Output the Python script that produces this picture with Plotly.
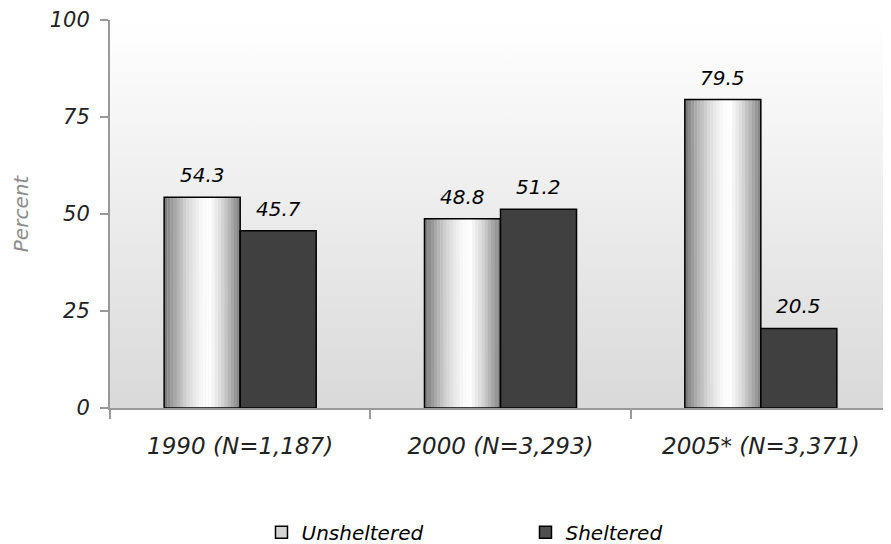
import base64
import plotly.graph_objects as go

categories = ["1990 (N=1,187)", "2000 (N=3,293)", "2005* (N=3,371)"]
unsheltered = [54.3, 48.8, 79.5]
sheltered = [45.7, 51.2, 20.5]
y_ticks = [0, 25, 50, 75, 100]

BAR_W = 0.292
FONT = "DejaVu Sans"

# horizontal "cylinder" gradient for unsheltered bars (style only)
stops = [(0.0, 118), (0.12, 160), (0.3, 215), (0.5, 250), (0.6, 255),
         (0.75, 218), (0.9, 165), (1.0, 128)]


def gray_at(t):
    for (a, ga), (b, gb) in zip(stops[:-1], stops[1:]):
        if a <= t <= b:
            v = ga + (gb - ga) * (t - a) / (b - a)
            v = int(round(v))
            return f"rgb({v},{v},{v})"
    return "rgb(200,200,200)"


fig = go.Figure()

N = 24
sw = BAR_W / N
for i in range(N):
    t = (i + 0.5) / N
    fig.add_trace(go.Bar(
        x=categories, y=unsheltered, width=sw * 1.05, offset=-BAR_W + i * sw,
        marker=dict(color=gray_at(t), line=dict(width=0)),
        showlegend=False, hoverinfo="skip"))

fig.add_trace(go.Bar(
    x=categories, y=unsheltered, width=BAR_W, offset=-BAR_W,
    marker=dict(color="rgba(0,0,0,0)", line=dict(color="black", width=1.5)),
    showlegend=False))

fig.add_trace(go.Bar(
    x=categories, y=sheltered, width=BAR_W, offset=0,
    marker=dict(color="#404040", line=dict(color="black", width=1.5)),
    showlegend=False))

# legend entries
fig.add_trace(go.Bar(x=[None], y=[None], name="Unsheltered",
                     marker=dict(color="#d4d4d4", line=dict(color="black", width=1.5))))
fig.add_trace(go.Bar(x=[None], y=[None], name="Sheltered",
                     marker=dict(color="#505050", line=dict(color="black", width=1.5))))

# value labels positioned by data
PLOT_W = 781
label_font = dict(family=FONT, size=20, color="black", style="italic")
half = BAR_W * PLOT_W / 3 / 2
annotations = []
for c, v in zip(categories, unsheltered):
    annotations.append(dict(x=c, y=v, xref="x", yref="y", text=f"{v:.1f}",
                            showarrow=False, yanchor="bottom", xshift=-half,
                            yshift=8, font=label_font))
for c, v in zip(categories, sheltered):
    annotations.append(dict(x=c, y=v, xref="x", yref="y", text=f"{v:.1f}",
                            showarrow=False, yanchor="bottom", xshift=half,
                            yshift=8, font=label_font))

svg = ('<svg xmlns="http://www.w3.org/2000/svg" width="100" height="100" preserveAspectRatio="none">'
       '<defs><linearGradient id="g" x1="0" y1="0" x2="0" y2="1">'
       '<stop offset="0" stop-color="#ffffff"/><stop offset="1" stop-color="#d9d9d9"/>'
       '</linearGradient></defs><rect width="100" height="100" fill="url(#g)"/></svg>')
src = "data:image/svg+xml;base64," + base64.b64encode(svg.encode()).decode()

fig.update_layout(
    width=891, height=544,
    margin=dict(l=102, r=8, t=12, b=144, autoexpand=False),
    barmode="overlay",
    paper_bgcolor="white", plot_bgcolor="rgba(0,0,0,0)",
    font=dict(family=FONT, color="#222222", style="italic"),
    annotations=annotations,
    images=[dict(source=src, xref="paper", yref="paper", x=0, y=1,
                 sizex=1, sizey=1, sizing="stretch", layer="below",
                 xanchor="left", yanchor="top")],
    xaxis=dict(type="category", range=[-0.5, 2.5], tickson="boundaries",
               ticks="outside", ticklen=9, tickcolor="#999999", tickwidth=1.5,
               showline=True, linecolor="#999999", linewidth=2,
               showgrid=False, ticklabelstandoff=16, automargin=False,
               tickfont=dict(family=FONT, size=23, color="#222222", style="italic")),
    yaxis=dict(range=[0, 100], tickvals=y_ticks, ticks="outside", ticklen=8,
               tickcolor="#999999", tickwidth=1.5,
               showline=True, linecolor="#999999", linewidth=2,
               showgrid=False, zeroline=False, ticklabelstandoff=6, automargin=False,
               tickfont=dict(family=FONT, size=21, color="#222222", style="italic"),
               title=dict(text="Percent", standoff=16,
                          font=dict(family=FONT, size=20, color="#8c8c8c", style="italic"))),
    legend=dict(orientation="h", x=0.532, xanchor="center", y=-0.32, yanchor="middle",
                entrywidth=219, entrywidthmode="pixels",
                font=dict(family=FONT, size=20, color="black", style="italic"),
                bgcolor="rgba(0,0,0,0)"),
)

fig.write_html("out.html")
